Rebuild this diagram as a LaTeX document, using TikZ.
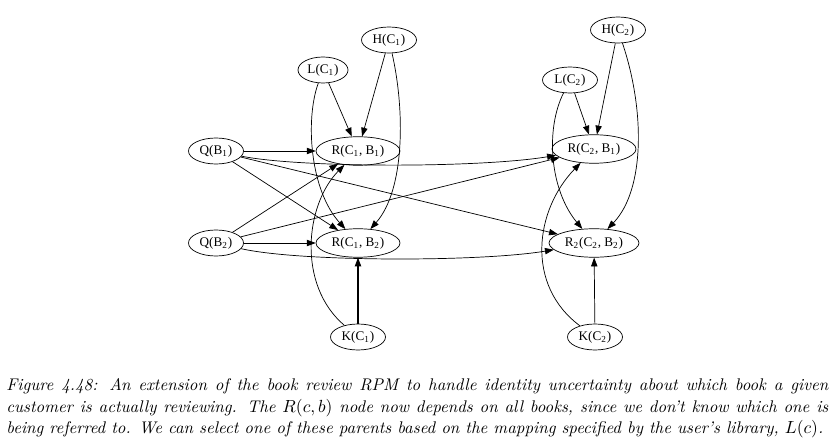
\documentclass[tikz,border=0pt]{standalone}
\usepackage{fontspec}
\newfontfamily\timesfont{Liberation Serif}
\usetikzlibrary{positioning, arrows.meta, shapes.geometric}

\begin{document}
\begin{tikzpicture}[
    every node/.style={font=\timesfont\fontsize{7.5}{9}\selectfont},
    var/.style={ellipse, draw, thin, inner sep=0pt, minimum width=1.1cm, minimum height=0.52cm},
    rel/.style={var, minimum width=1.68cm, minimum height=0.57cm},
    arrow/.style={-{Triangle[length=5pt, width=3.6pt]}, thin},
    figcaption/.style={font=\normalfont\itshape\fontsize{9.6}{12}\selectfont, text width=16.44cm, align=justify, inner sep=0pt}
]
\useasboundingbox (0,0) rectangle (16.66,-8.90);

% Customer 1 and its relations
\node[var] (h1)  at (7.78,-0.80) {H(C\textsubscript{1})};
\node[var, minimum width=1.0cm] (l1) at (6.46,-1.40) {L(C\textsubscript{1})};
\node[rel] (r11) at (7.16,-3.02) {R(C\textsubscript{1}, B\textsubscript{1})};
\node[rel] (r12) at (7.16,-4.86) {R(C\textsubscript{1}, B\textsubscript{2})};
\node[var] (k1)  at (7.16,-6.74) {K(C\textsubscript{1})};

% Books
\node[var] (q1) at (4.32,-3.02) {Q(B\textsubscript{1})};
\node[var] (q2) at (4.32,-4.86) {Q(B\textsubscript{2})};

% Customer 2 and its relations
\node[var] (h2)  at (12.36,-0.60) {H(C\textsubscript{2})};
\node[var] (l2)  at (11.40,-1.60) {L(C\textsubscript{2})};
\node[rel] (r21) at (11.88,-2.98) {R(C\textsubscript{2}, B\textsubscript{1})};
\node[rel, minimum width=1.8cm] (r22) at (11.88,-4.86) {R\textsubscript{2}(C\textsubscript{2}, B\textsubscript{2})};
\node[var] (k2)  at (11.90,-6.74) {K(C\textsubscript{2})};

% Parents of the first customer
\draw[arrow] (l1) -- (r11);
\draw[arrow] (h1) -- (r11);
\draw[arrow] (l1) .. controls (6.10,-2.40) and (6.20,-3.80) .. (r12);
\draw[arrow] (h1) .. controls (8.10,-2.20) and (8.10,-3.80) .. (r12);
\draw[arrow] (k1) .. controls (5.94,-5.70) and (6.10,-4.10) .. (r11);
\draw[arrow, semithick] (k1) -- (r12);

% Books to all relations
\draw[arrow] (q1) -- (r11);
\draw[arrow] (q1) -- (r12);
\draw[arrow] (q1) .. controls (6.00,-3.36) and (9.60,-3.36) .. (r21);
\draw[arrow] (q1) -- (r22);
\draw[arrow] (q2) -- (r11);
\draw[arrow] (q2) -- (r12);
\draw[arrow] (q2) -- (r21);
\draw[arrow] (q2) .. controls (6.00,-5.24) and (9.60,-5.24) .. (r22);

% Parents of the second customer
\draw[arrow] (l2) -- (r21);
\draw[arrow] (h2) -- (r21);
\draw[arrow] (l2) .. controls (10.90,-2.60) and (11.00,-3.80) .. (r22);
\draw[arrow] (h2) .. controls (12.90,-2.20) and (12.90,-3.80) .. (r22);
\draw[arrow] (k2) .. controls (10.50,-5.70) and (10.70,-4.20) .. (r21);
\draw[arrow] (k2) -- (r22);

% Caption
\node[figcaption, anchor=north west] (caption) at (0.12,-7.57) {Figure 4.48: An extension of the book review RPM to handle identity uncertainty about which book a given\linebreak customer is actually reviewing. The $R(c,b)$ node now depends on all books, since we don't know which one is\linebreak being referred to. We can select one of these parents based on the mapping specified by the user's library, $L(c)$.};

\end{tikzpicture}
\end{document}
